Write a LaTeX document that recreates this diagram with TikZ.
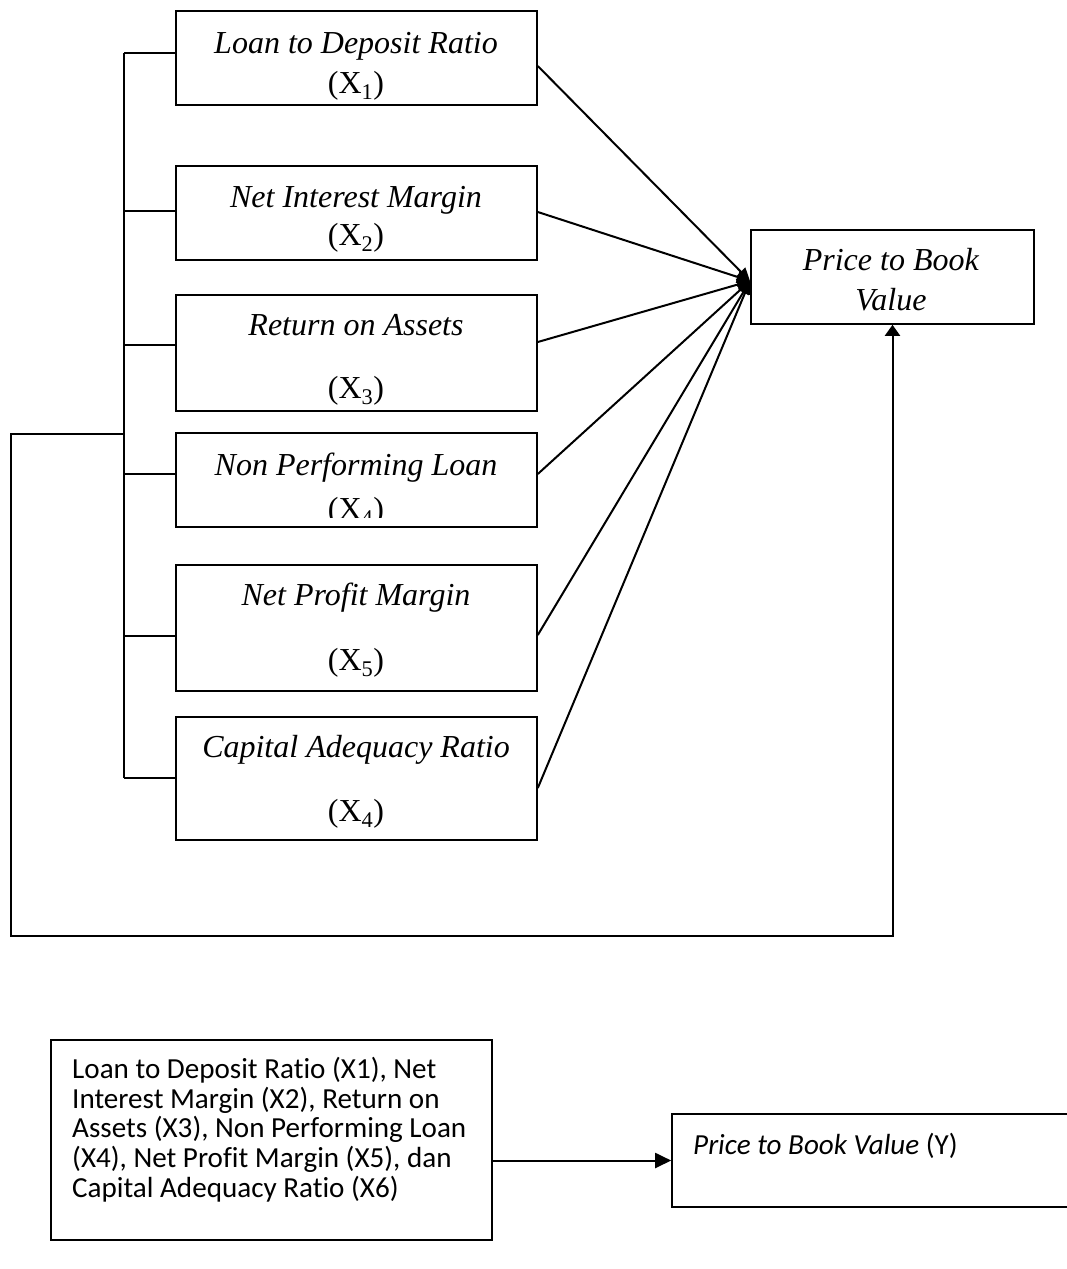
\documentclass[tikz,border=0pt]{standalone}
\usepackage{fontspec}
\setmainfont{Liberation Serif}
\newfontfamily\calfont[RawFeature={-liga;-clig;-calt;-dlig}]{Carlito}
\usetikzlibrary{arrows.meta}
\begin{document}
\begin{tikzpicture}[x=1pt,y=-1pt,
  box/.style={draw, line width=1.6pt, minimum width=361pt, inner sep=0pt},
  conn/.style={line width=2pt},
  tnr/.style={font=\fontsize{32}{36}\selectfont, inner sep=0pt, anchor=base},
  cal/.style={font=\calfont\fontsize{29.1}{30}\selectfont, inner sep=0pt, anchor=base west},
  tipc/.style={-{Triangle[length=13pt,width=12pt]}}]
\useasboundingbox (0,0) rectangle (1066,1269);

% left boxes
\node[box, minimum height=94pt]  (b1) at (356.5,58) {};
\node[box, minimum height=94pt]  (b2) at (356.5,213) {};
\node[box, minimum height=116pt] (b3) at (356.5,353) {};
\node[box, minimum height=94pt]  (b4) at (356.5,480) {};
\node[box, minimum height=126pt] (b5) at (356.5,628) {};
\node[box, minimum height=123pt] (b6) at (356.5,778.5) {};

% labels
\node[tnr] (t1a) at (356,53) {\textit{Loan to Deposit Ratio}};
\node[tnr] (t1b) at (356,93) {(X\textsubscript{1})};
\node[tnr] (t2a) at (356,207) {\textit{Net Interest Margin}};
\node[tnr] (t2b) at (356,245) {(X\textsubscript{2})};
\node[tnr] (t3a) at (356,335) {\textit{Return on Assets}};
\begin{scope}
\clip (176,370) rectangle (537,404);
\node[tnr] (t3b) at (356,398) {(X\textsubscript{3})};
\end{scope}
\node[tnr] (t4a) at (356,475) {\textit{Non Performing Loan}};
\begin{scope}
\clip (176,490) rectangle (537,517);
\node[tnr] (t4b) at (356,519) {(X\textsubscript{4})};
\end{scope}
\node[tnr] (t5a) at (356,605) {\textit{Net Profit Margin}};
\node[tnr] (t5b) at (356,670) {(X\textsubscript{5})};
\node[tnr] (t6a) at (356,757) {\textit{Capital Adequacy Ratio}};
\node[tnr] (t6b) at (356,821) {(X\textsubscript{4})};

% target box
\node[box, minimum width=283pt, minimum height=94pt] (pbv) at (892.5,277) {};
\node[tnr] (tpa) at (891,270) {\textit{Price to Book}};
\node[tnr] (tpb) at (891,310) {\textit{Value}};

% bus on the left
\coordinate (busTop) at (124,53);
\coordinate (busBot) at (124,778);
\coordinate (loopStart) at (124,434);
\draw[conn] (busTop) -- (busBot);
\draw[conn] ([yshift=5pt]b1.west) -- (busTop);
\draw[conn] ([yshift=2pt]b2.west) -- ++(-52,0);
\draw[conn] ([yshift=8pt]b3.west) -- ++(-52,0);
\draw[conn] ([yshift=6pt]b4.west) -- ++(-52,0);
\draw[conn] ([yshift=-8pt]b5.west) -- ++(-52,0);
\draw[conn] ([yshift=0.5pt]b6.west) -- (busBot);

% outer loop
\draw[conn, -{Triangle[length=11pt,width=15pt]}] (loopStart) -- (11,434) -- (11,936) -- (892.5,936) -- (pbv.south);

% converging arrows
\coordinate (conv) at (750,281);
\draw[conn,tipc] ([yshift=-8pt]b1.east) -- (conv);
\draw[conn,tipc] ([yshift=1pt]b2.east) -- (conv);
\draw[conn,tipc] ([yshift=11pt]b3.east) -- (conv);
\draw[conn,tipc] ([yshift=6pt]b4.east) -- (conv);
\draw[conn,tipc] ([yshift=-7pt]b5.east) -- (conv);
\draw[conn,tipc] ([yshift=-9.5pt]b6.east) -- (conv);

% bottom part
\node[draw, line width=1.6pt, minimum width=441pt, minimum height=200pt, inner sep=0pt] (ba) at (271.5,1140) {};
\node[draw, line width=1.6pt, minimum width=403pt, minimum height=93pt, inner sep=0pt] (bb) at (873.5,1160.5) {};
\node[cal] (l1) at (72,1078) {Loan to Deposit Ratio (X1), Net};
\node[cal] (l2) at (72,1108) {Interest Margin (X2), Return on};
\node[cal] (l3) at (72,1137.5) {Assets (X3), Non Performing Loan};
\node[cal] (l4) at (72,1167) {(X4), Net Profit Margin (X5), dan};
\node[cal] (l5) at (72,1197) {Capital Adequacy Ratio (X6)};
\node[cal] (ly) at (693,1154) {\textit{Price to Book Value} (Y)};
\draw[conn, -{Triangle[length=16pt,width=15pt]}] (ba.east |- bb.west) -- (bb.west);
\end{tikzpicture}
\end{document}
